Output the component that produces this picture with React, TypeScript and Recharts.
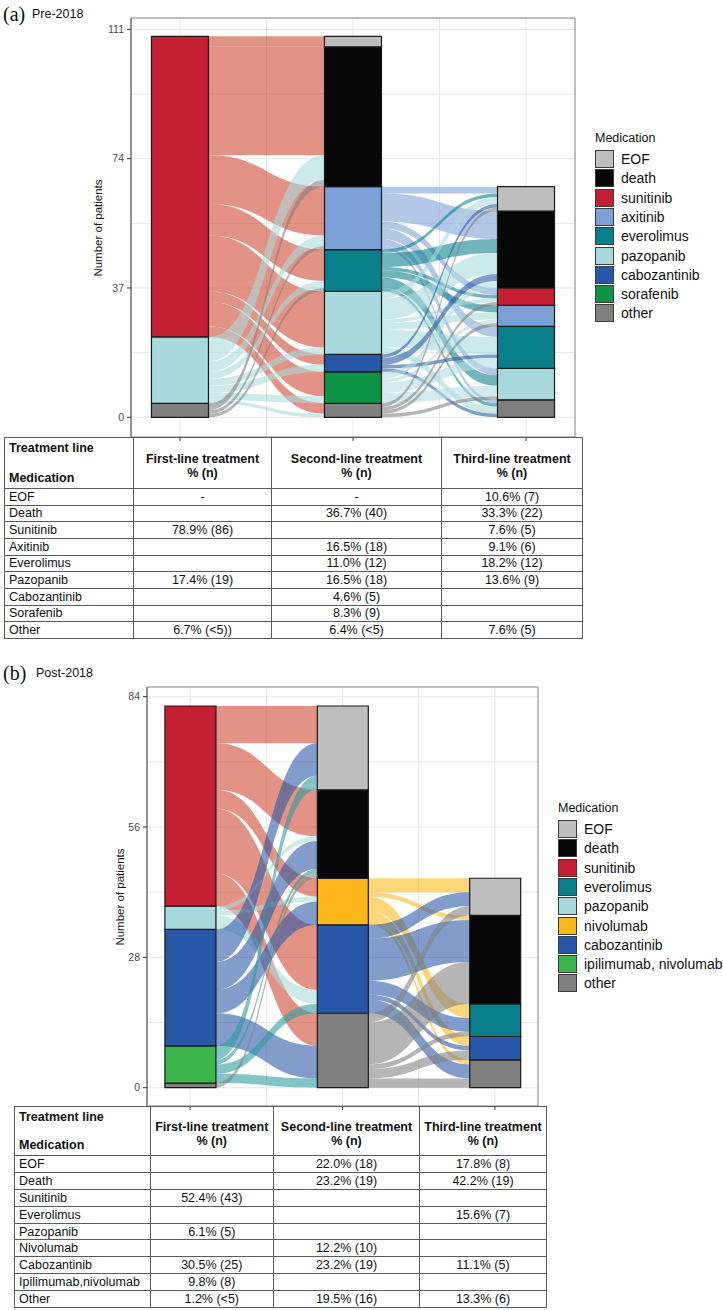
import React from 'react';
import { AreaChart, Area, BarChart, Bar, XAxis, YAxis, CartesianGrid, ReferenceArea } from 'recharts';

type Flow = [string, string, number];

const FONT = '"Liberation Sans", Arial, Helvetica, sans-serif';
const W = 723;

// ---- panel (a) Pre-2018 : strata listed top of the stack first ----
const strataA = ['EOF', 'death', 'sunitinib', 'axitinib', 'everolimus', 'pazopanib', 'cabozantinib', 'sorafenib', 'other'];
const firstLineA = [0, 0, 86, 0, 0, 19, 0, 0, 4];
const secondLineA = [3, 40, 0, 18, 12, 18, 5, 9, 4];
const thirdLineA = [7, 22, 5, 6, 12, 9, 0, 0, 5];
const yTicksA = [0, 37, 74, 111];
const yGridA = [0, 18.5, 37, 55.5, 74, 92.5, 111];

// patients moving between lines: [from, to, n]
const flowsA12: Flow[] = [
  ['sunitinib', 'EOF', 3], ['sunitinib', 'death', 31], ['sunitinib', 'axitinib', 14], ['sunitinib', 'everolimus', 9],
  ['sunitinib', 'pazopanib', 16], ['sunitinib', 'cabozantinib', 3], ['sunitinib', 'sorafenib', 7], ['sunitinib', 'other', 3],
  ['pazopanib', 'death', 7], ['pazopanib', 'axitinib', 3], ['pazopanib', 'everolimus', 2], ['pazopanib', 'pazopanib', 2],
  ['pazopanib', 'cabozantinib', 2], ['pazopanib', 'sorafenib', 2], ['pazopanib', 'other', 1],
  ['other', 'death', 2], ['other', 'axitinib', 1], ['other', 'everolimus', 1],
];
const flowsA23: Flow[] = [
  ['axitinib', 'EOF', 2], ['axitinib', 'death', 8], ['axitinib', 'sunitinib', 2], ['axitinib', 'everolimus', 3], ['axitinib', 'pazopanib', 2], ['axitinib', 'other', 1],
  ['everolimus', 'EOF', 1], ['everolimus', 'death', 4], ['everolimus', 'sunitinib', 1], ['everolimus', 'axitinib', 2], ['everolimus', 'pazopanib', 3], ['everolimus', 'other', 1],
  ['pazopanib', 'EOF', 2], ['pazopanib', 'death', 6], ['pazopanib', 'sunitinib', 1], ['pazopanib', 'axitinib', 2], ['pazopanib', 'everolimus', 5], ['pazopanib', 'other', 2],
  ['cabozantinib', 'EOF', 1], ['cabozantinib', 'death', 2], ['cabozantinib', 'everolimus', 1], ['cabozantinib', 'other', 1],
  ['sorafenib', 'death', 2], ['sorafenib', 'axitinib', 1], ['sorafenib', 'everolimus', 3], ['sorafenib', 'pazopanib', 3],
  ['other', 'EOF', 1], ['other', 'sunitinib', 1], ['other', 'axitinib', 1], ['other', 'pazopanib', 1],
];

const tableA: string[][] = [
  ['EOF', '-', '-', '10.6% (7)'],
  ['Death', '', '36.7% (40)', '33.3% (22)'],
  ['Sunitinib', '78.9% (86)', '', '7.6% (5)'],
  ['Axitinib', '', '16.5% (18)', '9.1% (6)'],
  ['Everolimus', '', '11.0% (12)', '18.2% (12)'],
  ['Pazopanib', '17.4% (19)', '16.5% (18)', '13.6% (9)'],
  ['Cabozantinib', '', '4.6% (5)', ''],
  ['Sorafenib', '', '8.3% (9)', ''],
  ['Other', '6.7% (<5))', '6.4% (<5)', '7.6% (5)'],
];

// ---- panel (b) Post-2018 ----
const strataB = ['EOF', 'death', 'sunitinib', 'everolimus', 'pazopanib', 'nivolumab', 'cabozantinib', 'ipilimumab, nivolumab', 'other'];
const firstLineB = [0, 0, 43, 0, 5, 0, 25, 8, 1];
const secondLineB = [18, 19, 0, 0, 0, 10, 19, 0, 16];
const thirdLineB = [8, 19, 0, 7, 0, 0, 5, 0, 6];
const yTicksB = [0, 28, 56, 84];
const yGridB = [0, 14, 28, 42, 56, 70, 84];

const flowsB12: Flow[] = [
  ['sunitinib', 'EOF', 8], ['sunitinib', 'death', 10], ['sunitinib', 'nivolumab', 4], ['sunitinib', 'cabozantinib', 14], ['sunitinib', 'other', 7],
  ['pazopanib', 'death', 1], ['pazopanib', 'nivolumab', 1], ['pazopanib', 'cabozantinib', 3],
  ['cabozantinib', 'EOF', 7], ['cabozantinib', 'death', 6], ['cabozantinib', 'nivolumab', 5], ['cabozantinib', 'other', 7],
  ['ipilimumab, nivolumab', 'EOF', 3], ['ipilimumab, nivolumab', 'death', 1], ['ipilimumab, nivolumab', 'cabozantinib', 2], ['ipilimumab, nivolumab', 'other', 2],
  ['other', 'death', 1],
];
const flowsB23: Flow[] = [
  ['nivolumab', 'EOF', 3], ['nivolumab', 'death', 1], ['nivolumab', 'everolimus', 3], ['nivolumab', 'cabozantinib', 2], ['nivolumab', 'other', 1],
  ['cabozantinib', 'EOF', 3], ['cabozantinib', 'death', 9], ['cabozantinib', 'everolimus', 3], ['cabozantinib', 'cabozantinib', 1], ['cabozantinib', 'other', 3],
  ['other', 'EOF', 2], ['other', 'death', 9], ['other', 'everolimus', 1], ['other', 'cabozantinib', 2], ['other', 'other', 2],
];

const tableB: string[][] = [
  ['EOF', '', '22.0% (18)', '17.8% (8)'],
  ['Death', '', '23.2% (19)', '42.2% (19)'],
  ['Sunitinib', '52.4% (43)', '', ''],
  ['Everolimus', '', '', '15.6% (7)'],
  ['Pazopanib', '6.1% (5)', '', ''],
  ['Nivolumab', '', '12.2% (10)', ''],
  ['Cabozantinib', '30.5% (25)', '23.2% (19)', '11.1% (5)'],
  ['Ipilimumab,nivolumab', '9.8% (8)', '', ''],
  ['Other', '1.2% (<5)', '19.5% (16)', '13.3% (6)'],
];

const lineHeads = ['First-line treatment', 'Second-line treatment', 'Third-line treatment'];

const COLORS: Record<string, string> = {
  EOF: '#bebebe',
  death: '#060606',
  sunitinib: '#c51f33',
  axitinib: '#7c9fd5',
  everolimus: '#097f8c',
  pazopanib: '#a8dadd',
  cabozantinib: '#2757a6',
  sorafenib: '#0c9444',
  nivolumab: '#fcb61a',
  'ipilimumab, nivolumab': '#3bb54a',
  other: '#7f7f7f',
};
// flow ribbons are drawn translucent, a few take a different tint
const FLOW_COLORS: Record<string, string> = {
  ...COLORS,
  sunitinib: '#cd452c',
  sorafenib: '#b3dde4',
  'ipilimumab, nivolumab': '#2a9a9c',
};

const X_DOMAIN: [number, number] = [0.717, 3.283];
const HALF = 1 / 6; // strata are 1/3 wide

function stackBounds(strata: string[], counts: number[]) {
  const lo: Record<string, number> = {};
  const hi: Record<string, number> = {};
  let acc = 0;
  for (let i = strata.length - 1; i >= 0; i--) {
    lo[strata[i]] = acc;
    acc += counts[i];
    hi[strata[i]] = acc;
  }
  return { lo, hi };
}

// sankey-like lode placement: leaving flows ordered by target, arriving flows by source
function buildFlows(strata: string[], columns: number[][], pairs: Flow[][]) {
  const rows: any[] = [];
  pairs.forEach((_, p) => {
    rows.push({ x: p + 1 + HALF });
    rows.push({ x: p + 2 - HALF });
  });
  const items: { key: string; color: string }[] = [];
  const idx = (s: string) => strata.indexOf(s);
  pairs.forEach((flows, p) => {
    const out = { ...stackBounds(strata, columns[p]).hi };
    const inn = { ...stackBounds(strata, columns[p + 1]).hi };
    const pos = new Map<Flow, { s?: number[]; d?: number[] }>();
    [...flows]
      .sort((a, b) => idx(a[0]) - idx(b[0]) || idx(a[1]) - idx(b[1]))
      .forEach((f) => {
        const top = out[f[0]];
        out[f[0]] = top - f[2];
        pos.set(f, { s: [top - f[2], top] });
      });
    [...flows]
      .sort((a, b) => idx(a[1]) - idx(b[1]) || idx(a[0]) - idx(b[0]))
      .forEach((f) => {
        const top = inn[f[1]];
        inn[f[1]] = top - f[2];
        pos.get(f)!.d = [top - f[2], top];
      });
    flows.forEach((f) => {
      const key = `f${items.length}`;
      rows[2 * p][key] = pos.get(f)!.s;
      rows[2 * p + 1][key] = pos.get(f)!.d;
      items.push({ key, color: FLOW_COLORS[f[0]] });
    });
  });
  return { rows, items };
}

interface PanelProps {
  strata: string[];
  columns: number[][];
  flows: Flow[][];
  yTicks: number[];
  yGrid: number[];
  yDomain: [number, number];
  chartTop: number;
  plotTop: number;
  plotBottom: number;
  plotLeft: number;
  plotRight: number;
  barSize: number;
}

const AXIS_W = 40;
const AXIS_H = 23;
const blank = () => '';

const AlluvialPanel: React.FC<PanelProps> = (p) => {
  const barData = [0, 1, 2].map((c) => {
    const row: any = { x: c + 1 };
    p.strata.forEach((s, i) => {
      row[s] = p.columns[c][i];
    });
    return row;
  });
  const { rows, items } = buildFlows(p.strata, p.columns, p.flows);
  const height = p.plotBottom - p.chartTop + AXIS_H;
  const margin = { top: p.plotTop - p.chartTop, right: W - p.plotRight, bottom: 0, left: p.plotLeft - AXIS_W };

  return (
    <>
      {/* grid + flow ribbons underneath */}
      <div style={{ position: 'absolute', left: 0, top: p.chartTop }}>
        <AreaChart width={W} height={height} data={rows} margin={margin}>
          <CartesianGrid stroke="#e6e6e6" strokeWidth={1} />
          <XAxis dataKey="x" type="number" domain={X_DOMAIN} allowDataOverflow ticks={[1, 1.5, 2, 2.5, 3]} interval={0}
            height={AXIS_H} tickFormatter={blank} tickLine={false} axisLine={false} />
          <YAxis type="number" domain={p.yDomain} allowDataOverflow ticks={p.yGrid} interval={0}
            width={AXIS_W} tickFormatter={blank} tickLine={false} axisLine={false} />
          {items.map((it) => (
            <Area key={it.key} dataKey={it.key} type="bumpX" fill={it.color} fillOpacity={0.58} stroke="none"
              dot={false} activeDot={false} isAnimationActive={false} />
          ))}
        </AreaChart>
      </div>
      {/* strata, axes and panel border on top */}
      <div style={{ position: 'absolute', left: 0, top: p.chartTop }}>
        <BarChart width={W} height={height} data={barData} margin={margin}>
          <XAxis dataKey="x" type="number" domain={X_DOMAIN} allowDataOverflow ticks={[1, 2, 3]} interval={0}
            height={AXIS_H} tickFormatter={blank} tickSize={4} axisLine={false} tickLine={{ stroke: '#333' }} />
          <YAxis type="number" domain={p.yDomain} allowDataOverflow ticks={p.yTicks} interval={0} width={AXIS_W}
            tick={{ fill: '#4d4d4d', fontSize: 10.5, fontFamily: FONT }} tickSize={4} tickMargin={3}
            axisLine={{ stroke: '#666' }} tickLine={{ stroke: '#333' }} />
          <ReferenceArea x1={X_DOMAIN[0]} x2={X_DOMAIN[1]} y1={p.yDomain[0]} y2={p.yDomain[1]}
            fill="none" stroke="#8c8c8c" strokeWidth={1} ifOverflow="visible" />
          {[...p.strata].reverse().map((s) => (
            <Bar key={s} dataKey={s} stackId="a" fill={COLORS[s]} stroke="#1a1a1a" strokeWidth={1.2}
              barSize={p.barSize} isAnimationActive={false} />
          ))}
        </BarChart>
      </div>
    </>
  );
};

const AxisTitle = ({ cx, cy }: { cx: number; cy: number }) => (
  <div style={{
    position: 'absolute', left: cx - 60, top: cy - 8, width: 120, height: 16, lineHeight: '16px',
    textAlign: 'center', transform: 'rotate(-90deg)', fontSize: 11.5, color: '#1a1a1a', whiteSpace: 'nowrap',
  }}>
    Number of patients
  </div>
);

const PanelTag = ({ letter, label, top, labelLeft }: { letter: string; label: string; top: number; labelLeft: number }) => (
  <>
    <div style={{ position: 'absolute', left: 3, top: top - 12, height: 24, lineHeight: '24px', fontFamily: '"Liberation Serif", "Times New Roman", serif', fontSize: 20, color: '#111' }}>
      ({letter})
    </div>
    <div style={{ position: 'absolute', left: labelLeft, top: top - 8, height: 16, lineHeight: '16px', fontSize: 12.5, color: '#111' }}>
      {label}
    </div>
  </>
);

const MedicationLegend = ({ strata, left, titleY, keysTop, labelLeft }: { strata: string[]; left: number; titleY: number; keysTop: number; labelLeft: number }) => (
  <>
    <div style={{ position: 'absolute', left, top: titleY - 8, lineHeight: '16px', fontSize: 12.5, color: '#111' }}>Medication</div>
    {strata.map((s, i) => {
      const y = keysTop + i * 19.3;
      return (
        <React.Fragment key={s}>
          <div style={{ position: 'absolute', left, top: y, width: 17, height: 16, background: COLORS[s], border: '1px solid #3c3c3c' }} />
          <div style={{ position: 'absolute', left: labelLeft, top: y, height: 18, lineHeight: '18px', fontSize: 14, color: '#111', whiteSpace: 'nowrap' }}>{s}</div>
        </React.Fragment>
      );
    })}
  </>
);

const TreatmentTable = ({ left, top, widths, headH, rowH, rows }: { left: number; top: number; widths: number[]; headH: number; rowH: number; rows: string[][] }) => {
  const cell: React.CSSProperties = { border: '1px solid #5a5a5a', padding: 0, overflow: 'hidden', whiteSpace: 'nowrap', boxSizing: 'border-box' };
  return (
    <table style={{
      position: 'absolute', left, top, borderCollapse: 'collapse', tableLayout: 'fixed',
      width: widths.reduce((a, b) => a + b, 0), fontFamily: FONT, fontSize: 12.5, color: '#111', lineHeight: '14px',
    }}>
      <colgroup>{widths.map((w, i) => <col key={i} style={{ width: w }} />)}</colgroup>
      <tbody>
        <tr style={{ height: headH }}>
          <td style={{ ...cell, fontWeight: 'bold', verticalAlign: 'top', padding: '3px 4px 0' }}>
            <div style={{ display: 'flex', flexDirection: 'column', justifyContent: 'space-between', height: headH - 7 }}>
              <span>Treatment line</span>
              <span>Medication</span>
            </div>
          </td>
          {lineHeads.map((h) => (
            <td key={h} style={{ ...cell, fontWeight: 'bold', textAlign: 'center', paddingTop: 5 }}>
              {h}
              <br />% (n)
            </td>
          ))}
        </tr>
        {rows.map((r, i) => (
          <tr key={i} style={{ height: rowH }}>
            {r.map((c, j) => (
              <td key={j} style={{ ...cell, textAlign: j === 0 ? 'left' : 'center', paddingLeft: j === 0 ? 4 : 0 }}>{c}</td>
            ))}
          </tr>
        ))}
      </tbody>
    </table>
  );
};

export default function App() {
  return (
    <div style={{ position: 'absolute', left: 0, top: 0, width: W, height: 1310, background: '#fff', fontFamily: FONT, overflow: 'hidden' }}>
      <PanelTag letter="a" label="Pre-2018" top={14} labelLeft={32} />
      <AlluvialPanel
        strata={strataA}
        columns={[firstLineA, secondLineA, thirdLineA]}
        flows={[flowsA12, flowsA23]}
        yTicks={yTicksA}
        yGrid={yGridA}
        yDomain={[-5.64, 114.25]}
        chartTop={0}
        plotTop={18}
        plotBottom={437}
        plotLeft={131}
        plotRight={575}
        barSize={57}
      />
      <AxisTitle cx={98} cy={227.5} />
      <MedicationLegend strata={strataA} left={595} titleY={138} keysTop={150} labelLeft={621} />
      <TreatmentTable left={4} top={437} widths={[129, 138, 170, 141]} headH={51} rowH={16.67} rows={tableA} />

      <PanelTag letter="b" label="Post-2018" top={673} labelLeft={36} />
      <AlluvialPanel
        strata={strataB}
        columns={[firstLineB, secondLineB, thirdLineB]}
        flows={[flowsB12, flowsB23]}
        yTicks={yTicksB}
        yGrid={yGridB}
        yDomain={[-3.93, 86.08]}
        chartTop={660}
        plotTop={687}
        plotBottom={1106}
        plotLeft={147}
        plotRight={538}
        barSize={51}
      />
      <AxisTitle cx={120} cy={896.5} />
      <MedicationLegend strata={strataB} left={558} titleY={808} keysTop={820} labelLeft={584} />
      <TreatmentTable left={14} top={1106} widths={[135.5, 123.5, 146, 127]} headH={49} rowH={16.9} rows={tableB} />
    </div>
  );
}
